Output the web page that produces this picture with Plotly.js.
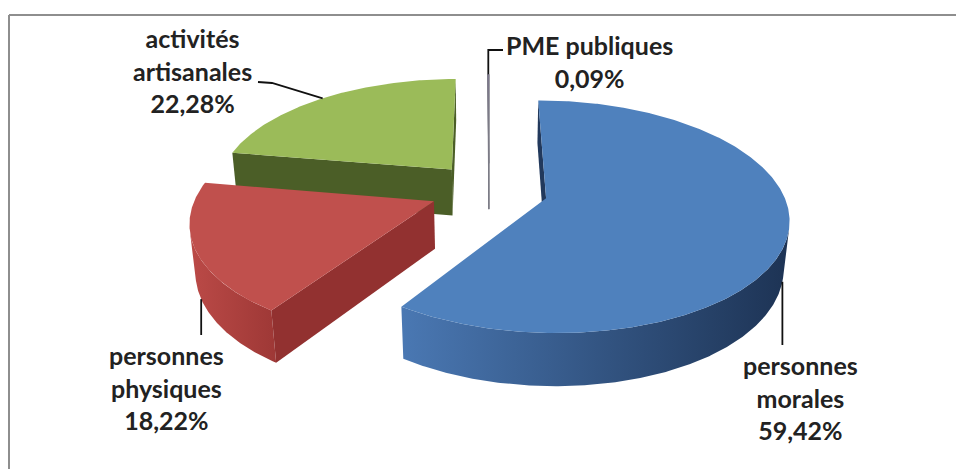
<!DOCTYPE html>
<html>
<head>
<meta charset="utf-8">
<script src="https://cdn.plot.ly/plotly-3.0.1.min.js"></script>
<style>
  html, body { margin: 0; padding: 0; background: #ffffff; }
  #chart { width: 956px; height: 469px; }
</style>
</head>
<body>
<div id="chart"></div>
<script>
// Répartition par catégorie (ordre horaire à partir de midi)
const categories = ['personnes morales', 'personnes physiques', 'activités artisanales', 'PME publiques'];
const labelLines = [['personnes', 'morales'], ['personnes', 'physiques'], ['activités', 'artisanales'], ['PME publiques']];
const shares = [59.42, 18.22, 22.28, 0.09];

// Couleurs : dessus, paroi courbe (clair -> foncé), face de coupe
const topColors = ['#4f81bd', '#c0504d', '#9bbb59', '#8064a2'];
const wallColors = [['#4a78b3', '#1d3354'], ['#bb4a47', '#9e3836'], ['#85a34a', '#5d7430'], ['#7a6299', '#5a4777']];
const cutColors = ['#22395c', '#923130', '#4b5e27', '#5a4777'];

// Étiquettes : centre du bloc de texte, et tracé de la ligne de rappel
// (null en x = même abscisse que le point d'accroche sur la part)
const labelPos = [[800, 397], [166, 387], [192, 70], [589, 61]];
const leaderBends = [[[null, 345]], [[null, 335]], [[272, 83], [258, 82]], [[null, 50], [503, 50]]];
const leaderOnWallBottom = [true, true, false, false];

// Vue 3D en perspective du camembert éclaté
const VIEW = { cx: 489, cy: 190, scale: 236, tilt: 28 * Math.PI / 180, dist: 5.6, height: 0.23, pull: 0.25 };
const sinT = Math.sin(VIEW.tilt), cosT = Math.cos(VIEW.tilt);

function proj(X, Y, Z) {
  const depth = VIEW.dist - Y * sinT - Z * cosT;
  const k = VIEW.dist / depth;
  const v = Y * cosT - Z * sinT;
  return [VIEW.cx + VIEW.scale * X * k, VIEW.cy - VIEW.scale * v * k];
}

const rad = d => d * Math.PI / 180;
const total = shares.reduce((a, b) => a + b, 0);

// Géométrie de chaque part
const slices = [];
let acc = 0;
shares.forEach((v, i) => {
  const t1 = acc / total * 360;
  acc += v;
  const t2 = acc / total * 360;
  const mid = (t1 + t2) / 2;
  slices.push({ i, t1, t2, mid, ox: VIEW.pull * Math.sin(rad(mid)), oz: -VIEW.pull * Math.cos(rad(mid)) });
});

function pt(s, thDeg, r, Y) {
  const th = rad(thDeg);
  return proj(s.ox + r * Math.sin(th), Y, s.oz - r * Math.cos(th));
}

function arc(s, a, b, Y) {
  const n = Math.max(2, Math.ceil(Math.abs(b - a) / 0.5));
  const out = [];
  for (let j = 0; j <= n; j++) out.push(pt(s, a + (b - a) * j / n, 1, Y));
  return out;
}

const camZ = VIEW.dist * cosT;
function wallVisible(s, thDeg) {
  const th = rad(thDeg);
  return -1 - s.ox * Math.sin(th) - (camZ - s.oz) * Math.cos(th) > 0;
}
function cutVisible(s, thDeg, outwardSign) {
  const th = rad(thDeg);
  const nX = outwardSign * Math.cos(th), nZ = outwardSign * Math.sin(th);
  return (-s.ox) * nX + (camZ - s.oz) * nZ > 0;
}

function polygon(points, fill, outline) {
  const tr = {
    type: 'scatter', mode: 'lines', fill: 'toself',
    x: points.map(p => p[0]).concat([points[0][0]]),
    y: points.map(p => p[1]).concat([points[0][1]]),
    line: outline ? { width: 1, color: outline } : { width: 0, color: 'rgba(0,0,0,0)' },
    hoverinfo: 'skip', showlegend: false
  };
  if (Array.isArray(fill)) {
    tr.fillcolor = fill[0];
    tr.fillgradient = { type: 'horizontal', colorscale: [[0, fill[0]], [1, fill[1]]] };
  } else {
    tr.fillcolor = fill;
  }
  return tr;
}

const H = VIEW.height;
const traces = [];
// ordre de dessin : de l'arrière vers l'avant
const drawOrder = [2, 3, 1, 0];
drawOrder.forEach(idx => {
  const s = slices[idx];
  const outline = shares[idx] / total < 0.005 ? '#7c7c86' : null;

  // paroi courbe : seulement la partie tournée vers l'observateur
  const n = Math.max(2, Math.ceil((s.t2 - s.t1) / 0.5));
  let run = [];
  const flush = () => {
    if (run.length >= 2) {
      const a = run[0], b = run[run.length - 1];
      const pts = arc(s, a, b, 0).concat(arc(s, b, a, -H));
      traces.push(polygon(pts, wallColors[idx], outline));
    }
    run = [];
  };
  for (let j = 0; j <= n; j++) {
    const th = s.t1 + (s.t2 - s.t1) * j / n;
    if (wallVisible(s, th)) run.push(th); else flush();
  }
  flush();

  // faces de coupe radiales
  [[s.t1, -1], [s.t2, 1]].forEach(([th, sign]) => {
    if (cutVisible(s, th, sign)) {
      const apexTop = proj(s.ox, 0, s.oz), apexBot = proj(s.ox, -H, s.oz);
      const pts = [apexTop, pt(s, th, 1, 0), pt(s, th, 1, -H), apexBot];
      traces.push(polygon(pts, cutColors[idx], outline));
    }
  });

  // dessus de la part
  const topPts = [proj(s.ox, 0, s.oz)].concat(arc(s, s.t1, s.t2, 0));
  traces.push(polygon(topPts, topColors[idx], outline));
});

// lignes de rappel
slices.forEach((s, idx) => {
  const a = pt(s, s.mid, 1, leaderOnWallBottom[idx] ? -H : 0);
  const pts = [a].concat(leaderBends[idx].map(p => [p[0] === null ? a[0] : p[0], p[1]]));
  traces.push({
    type: 'scatter', mode: 'lines',
    x: pts.map(p => p[0]), y: pts.map(p => p[1]),
    line: { color: '#111111', width: 1.8 },
    hoverinfo: 'skip', showlegend: false
  });
});

const fmt = v => v.toFixed(2).replace('.', ',') + '%';
const annotations = slices.map((s, idx) => ({
  x: labelPos[idx][0], y: labelPos[idx][1], xref: 'x', yref: 'y',
  xanchor: 'center', yanchor: 'middle', align: 'center', showarrow: false,
  text: labelLines[idx].concat([fmt(shares[idx])]).join('<br>'),
  font: { family: 'Lato, "Open Sans", sans-serif', size: 25, color: '#222222', weight: 700 }
}));

const layout = {
  width: 956, height: 469,
  margin: { l: 0, r: 0, t: 0, b: 0 },
  paper_bgcolor: '#ffffff', plot_bgcolor: '#ffffff',
  xaxis: { range: [0, 956], visible: false, fixedrange: true },
  yaxis: { range: [469, 0], visible: false, fixedrange: true },
  showlegend: false,
  annotations: annotations,
  shapes: [
    { type: 'line', xref: 'x', yref: 'y', x0: 9, y0: 469, x1: 9, y1: 15, line: { color: '#8e8e8e', width: 2 } },
    { type: 'line', xref: 'x', yref: 'y', x0: 9, y0: 15, x1: 956, y1: 15, line: { color: '#8e8e8e', width: 2 } }
  ]
};

Plotly.newPlot('chart', traces, layout, { staticPlot: true, displayModeBar: false });
</script>
</body>
</html>
